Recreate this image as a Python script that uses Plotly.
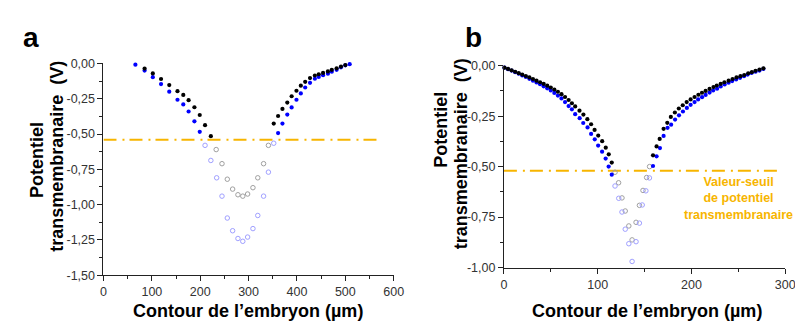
import plotly.graph_objects as go

# ---------------- Panel a data ----------------
a_black_solid_x = [85, 102, 119, 136, 153, 165, 176, 188, 199, 210, 222,
                   352, 361, 370, 380, 389, 399, 408, 417, 427, 437, 445, 454, 464, 472, 482, 491, 500]
a_black_solid_y = [-0.036, -0.07, -0.11, -0.153, -0.196, -0.223, -0.26, -0.31, -0.365, -0.437, -0.515,
                   -0.426, -0.372, -0.322, -0.277, -0.232, -0.193, -0.157, -0.13, -0.103, -0.085, -0.076, -0.067,
                   -0.056, -0.045, -0.034, -0.022, -0.011]
a_black_hollow_x = [233, 245, 256, 267, 278, 288, 298, 309, 319, 331, 341]
a_black_hollow_y = [-0.61, -0.71, -0.82, -0.89, -0.93, -0.94, -0.925, -0.88, -0.81, -0.71, -0.58]

a_blue_solid_x = [66, 85, 102, 119, 136, 153, 165, 176, 188, 199,
                  361, 370, 380, 389, 399, 408, 417, 427, 437, 445, 454, 464, 472, 482, 491, 500, 509]
a_blue_solid_y = [-0.008, -0.05, -0.097, -0.146, -0.2, -0.257, -0.29, -0.34, -0.41, -0.484,
                  -0.493, -0.426, -0.362, -0.311, -0.257, -0.212, -0.17, -0.137, -0.108, -0.095, -0.083,
                  -0.072, -0.058, -0.045, -0.027, -0.013, -0.005]
a_blue_hollow_x = [210, 222, 234, 245, 256, 267, 278, 288, 298, 309, 319, 331, 341, 352]
a_blue_hollow_y = [-0.58, -0.687, -0.81, -0.94, -1.095, -1.185, -1.24, -1.26, -1.23, -1.17, -1.077, -0.94,
                   -0.77, -0.565]

a_threshold = -0.54
a_threshold_x = [0, 570]

# ---------------- Panel b data ----------------
b_black_solid_x = [0.6, 4.4, 8.2, 12, 15.8, 19.6, 23.4, 27.2, 31, 34.8, 38.6, 42.4, 46.2, 50, 53.8, 57.6,
                   61.4, 65.2, 69, 72.5, 76, 80.6, 84.8, 89, 93, 96.7, 100.6, 104.8, 108.6, 111.8, 115,
                   159, 162.8, 166.1, 170.3, 174.2, 178, 182.3, 186.5, 190.7, 194.9, 199.1, 203.3, 207.4,
                   211.2, 215.1, 219.3, 223.5, 227, 231.2, 235.1, 239.6, 243.8, 248, 252.2, 256.3, 260.5,
                   264.4, 268.3, 272.5, 276.7]
b_black_solid_y = [-0.010, -0.016, -0.023, -0.030, -0.037, -0.044, -0.051, -0.058, -0.066, -0.074, -0.082,
                   -0.090, -0.099, -0.108, -0.118, -0.129, -0.141, -0.155, -0.17, -0.186, -0.202, -0.223,
                   -0.242, -0.265, -0.29, -0.318, -0.346, -0.374, -0.406, -0.439, -0.48,
                   -0.444, -0.40, -0.363, -0.313, -0.283, -0.254, -0.232, -0.212, -0.196, -0.18, -0.167,
                   -0.155, -0.144, -0.134, -0.125, -0.115, -0.106, -0.098, -0.09, -0.082, -0.074, -0.066,
                   -0.058, -0.052, -0.046, -0.038, -0.032, -0.025, -0.019, -0.013]
b_black_hollow_x = [118.5, 122.3, 125.9, 129.4, 133.2, 136.7, 140.9, 144.5, 148.3, 152.2, 155.3]
b_black_hollow_y = [-0.528, -0.58, -0.655, -0.72, -0.794, -0.863, -0.776, -0.692, -0.618, -0.554, -0.5]

b_blue_solid_x = [0.6, 4.4, 8.2, 12, 15.8, 19.6, 23.4, 27.2, 31, 34.8, 38.6, 42.4, 46.2, 50, 53.8, 57.6,
                  61.4, 65.2, 69, 72.5, 76, 80.8, 84.6, 89.2, 93, 96.9, 100.5, 104.7, 108.5, 111.7, 115,
                  159, 162.8, 166.4, 170.3, 174.5, 178.3, 182.5, 186.7, 190.9, 195.1, 199.1, 203.3, 207.1,
                  211.3, 215.1, 219.3, 223.1, 227.3, 231.2, 235.4, 239.6, 243.4, 247.6, 251.8, 256, 259.9,
                  264.1, 268.3, 272.5, 276.7]
b_blue_solid_y = [-0.010, -0.017, -0.024, -0.032, -0.040, -0.048, -0.056, -0.065, -0.074, -0.083, -0.092,
                  -0.102, -0.112, -0.123, -0.135, -0.148, -0.162, -0.18, -0.2, -0.216, -0.24, -0.26, -0.284,
                  -0.306, -0.338, -0.365, -0.396, -0.426, -0.46, -0.5, -0.54,
                  -0.497, -0.449, -0.408, -0.348, -0.308, -0.292, -0.267, -0.246, -0.227, -0.209, -0.194,
                  -0.18, -0.167, -0.156, -0.145, -0.133, -0.123, -0.114, -0.103, -0.093, -0.084, -0.076,
                  -0.068, -0.06, -0.052, -0.044, -0.036, -0.03, -0.024, -0.016]
b_blue_hollow_x = [118.5, 122.5, 125.9, 129.4, 133.2, 136.7, 140.9, 144.5, 147.5, 151.4, 155.2]
b_blue_hollow_y = [-0.596, -0.657, -0.725, -0.81, -0.882, -0.97, -0.872, -0.78, -0.69, -0.62, -0.556]

b_threshold = -0.52
b_threshold_x = [0, 292]

# ticks
a_xticks = [0, 100, 200, 300, 400, 500, 600]
a_yticks = [0, -0.25, -0.5, -0.75, -1.0, -1.25, -1.5]
a_yticktext = ["0,00", "-0,25", "-0,50", "-0,75", "-1,00", "-1,25", "-1,50"]
b_xticks = [0, 100, 200, 300]
b_yticks = [0, -0.25, -0.5, -0.75, -1.0]
b_yticktext = ["0,00", "-0,25", "-0,50", "-0,75", "-1,00"]

ORANGE = "#F7B500"
FONT = "Liberation Sans, Arial, sans-serif"

fig = go.Figure()


def add_panel(xa, ya, bsx, bsy, bhx, bhy, usx, usy, uhx, uhy, thr, thr_x):
    ms = 4.2
    fig.add_trace(go.Scatter(x=thr_x, y=[thr, thr], mode="lines", xaxis=xa, yaxis=ya,
                             line=dict(color=ORANGE, width=2, dash="13px,6px,2px,5px"),
                             hoverinfo="skip", cliponaxis=False))
    fig.add_trace(go.Scatter(x=bhx, y=bhy, mode="markers", xaxis=xa, yaxis=ya, cliponaxis=False,
                             marker=dict(symbol="circle-open", size=4.5, color="#a0a0a0",
                                         line=dict(width=1, color="#a0a0a0"))))
    fig.add_trace(go.Scatter(x=uhx, y=uhy, mode="markers", xaxis=xa, yaxis=ya, cliponaxis=False,
                             marker=dict(symbol="circle-open", size=4.5, color="#a0a0ff",
                                         line=dict(width=1, color="#a0a0ff"))))
    fig.add_trace(go.Scatter(x=usx, y=usy, mode="markers", xaxis=xa, yaxis=ya, cliponaxis=False,
                             marker=dict(symbol="circle", size=ms, color="#0000ff", line=dict(width=0))))
    fig.add_trace(go.Scatter(x=bsx, y=bsy, mode="markers", xaxis=xa, yaxis=ya, cliponaxis=False,
                             marker=dict(symbol="circle", size=ms, color="#000000", line=dict(width=0))))


add_panel("x", "y", a_black_solid_x, a_black_solid_y, a_black_hollow_x, a_black_hollow_y,
          a_blue_solid_x, a_blue_solid_y, a_blue_hollow_x, a_blue_hollow_y, a_threshold, a_threshold_x)
add_panel("x2", "y2", b_black_solid_x, b_black_solid_y, b_black_hollow_x, b_black_hollow_y,
          b_blue_solid_x, b_blue_solid_y, b_blue_hollow_x, b_blue_hollow_y, b_threshold, b_threshold_x)

W, H = 803, 322


def px2x(p):
    return p / W


def py2y(p):
    return 1 - p / H


axis_common = dict(showgrid=False, zeroline=False, showline=True, linecolor="#222", linewidth=1,
                   ticks="outside", ticklen=5, tickcolor="#222", tickwidth=1,
                   tickfont=dict(family=FONT, size=12.5, color="#333"), fixedrange=True)

fig.update_layout(
    width=W, height=H, margin=dict(l=0, r=0, t=0, b=0),
    paper_bgcolor="white", plot_bgcolor="white", showlegend=False,
    xaxis=dict(domain=[px2x(94), px2x(389)], range=[0, 600], anchor="y",
               tickmode="array", tickvals=a_xticks,
               minor=dict(tickmode="linear", tick0=0, dtick=50, ticks="outside", ticklen=3, tickcolor="#222"),
               **axis_common),
    yaxis=dict(domain=[py2y(272), py2y(50.7)], range=[-1.5, 0], anchor="x",
               tickmode="array", tickvals=a_yticks, ticktext=a_yticktext,
               minor=dict(tickmode="linear", tick0=0, dtick=0.125, ticks="outside", ticklen=3, tickcolor="#222"),
               **axis_common),
    xaxis2=dict(domain=[px2x(501), px2x(787)], range=[0, 300], anchor="y2",
                tickmode="array", tickvals=b_xticks,
                minor=dict(tickmode="linear", tick0=0, dtick=50, ticks="outside", ticklen=3, tickcolor="#222"),
                **axis_common),
    yaxis2=dict(domain=[py2y(264), py2y(53)], range=[-1.0, 0], anchor="x2",
                tickmode="array", tickvals=b_yticks, ticktext=b_yticktext,
                minor=dict(tickmode="linear", tick0=0, dtick=0.125, ticks="outside", ticklen=3, tickcolor="#222"),
                **axis_common),
)

annos = []
bold18 = dict(family=FONT, size=18, color="#000")
# panel letters
annos.append(dict(x=px2x(20), y=py2y(24), text="<b>a</b>", font=dict(family=FONT, size=28, color="#000")))
annos.append(dict(x=px2x(470), y=py2y(24), text="<b>b</b>", font=dict(family=FONT, size=28, color="#000")))
# x titles
annos.append(dict(x=px2x(241), y=py2y(309), text="<b>Contour de l’embryon (µm)</b>", font=bold18))
annos.append(dict(x=px2x(646), y=py2y(309), text="<b>Contour de l’embryon (µm)</b>", font=bold18))
# y titles
annos.append(dict(x=px2x(27), y=py2y(152), text="<b>Potentiel</b>", font=bold18, textangle=-90))
annos.append(dict(x=px2x(46), y=py2y(148), text="<b>transmembranaire  (V)</b>", font=bold18, textangle=-90))
annos.append(dict(x=px2x(437), y=py2y(120), text="<b>Potentiel</b>", font=bold18, textangle=-90))
annos.append(dict(x=px2x(457), y=py2y(145), text="<b>transmembranaire  (V)</b>", font=bold18, textangle=-90))
# threshold label
annos.append(dict(x=px2x(739), y=py2y(192), text="<b>Valeur-seuil<br>de potentiel<br>transmembranaire</b>",
                  font=dict(family=FONT, size=12.5, color=ORANGE), align="center"))

for a in annos:
    a.update(xref="paper", yref="paper", showarrow=False, xanchor="center", yanchor="middle")
fig.update_layout(annotations=annos)

fig.write_html("out.html")
